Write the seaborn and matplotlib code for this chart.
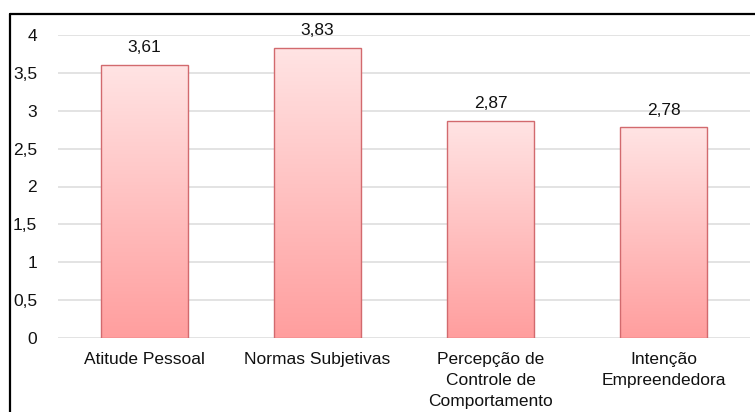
import numpy as np
import pandas as pd
import matplotlib
matplotlib.use('Agg')
import matplotlib.pyplot as plt
import seaborn as sns
from matplotlib.colors import LinearSegmentedColormap
from matplotlib.lines import Line2D
from matplotlib.ticker import FuncFormatter, MultipleLocator

# Data
categorias = ['Atitude Pessoal', 'Normas Subjetivas',
              'Percepção de\nControle de\nComportamento', 'Intenção\nEmpreendedora']
medias = [3.61, 3.83, 2.87, 2.78]

df = pd.DataFrame({'Construto': categorias, 'Media': medias})

sns.set_theme(style="white")
plt.rcParams['font.family'] = ['Liberation Sans', 'DejaVu Sans']

fig = plt.figure(figsize=(7.55, 4.12), dpi=100)
ax = fig.add_axes([58 / 755, 1 - 338 / 412, 692 / 755, 303 / 412])

sns.barplot(data=df, x='Construto', y='Media', color='#FFB0B0', width=0.5,
            edgecolor='#D26A6E', linewidth=1.0, ax=ax)

# gradient fill, light on top and salmon at the bottom
cmap = LinearSegmentedColormap.from_list('rosa', ['#FF9E9E', '#FFE4E4'])
grad = np.linspace(0, 1, 256).reshape(-1, 1)
for p in ax.patches:
    x0, w, h = p.get_x(), p.get_width(), p.get_height()
    im = ax.imshow(grad, extent=[x0, x0 + w, 0, h], origin='lower', aspect='auto',
                   cmap=cmap, zorder=2)
    im.set_clip_path(p)
    p.set_facecolor('none')
    p.set_zorder(3)

ax.bar_label(ax.containers[0], fmt=lambda v: f'{v:.2f}'.replace('.', ','),
             padding=7, fontsize=12.5, color='#111111')

ax.set_xlim(-0.5, 3.5)
ax.set_ylim(0, 4)
ax.yaxis.set_major_locator(MultipleLocator(0.5))
ax.yaxis.set_major_formatter(FuncFormatter(lambda v, pos: f'{v:g}'.replace('.', ',')))
ax.grid(axis='y', color='#DEDEDE', linewidth=1.2)
ax.set_axisbelow(True)
for s in ax.spines.values():
    s.set_visible(False)
ax.tick_params(axis='y', length=0, pad=15, labelsize=12.5, labelcolor='#111111')
ax.tick_params(axis='x', length=0, pad=10, labelsize=12.5, labelcolor='#111111')
ax.set_xticks(range(len(categorias)), categorias, linespacing=1.5)
ax.set_xlabel('')
ax.set_ylabel('')

# frame around the chart (top and left visible)
fig.add_artist(Line2D([10 / 755, 1], [1 - 14 / 412, 1 - 14 / 412], color='black',
                      linewidth=1.6, transform=fig.transFigure))
fig.add_artist(Line2D([10 / 755, 10 / 755], [0, 1 - 14 / 412], color='black',
                      linewidth=1.6, transform=fig.transFigure))

fig.savefig('out.png', dpi=100)
